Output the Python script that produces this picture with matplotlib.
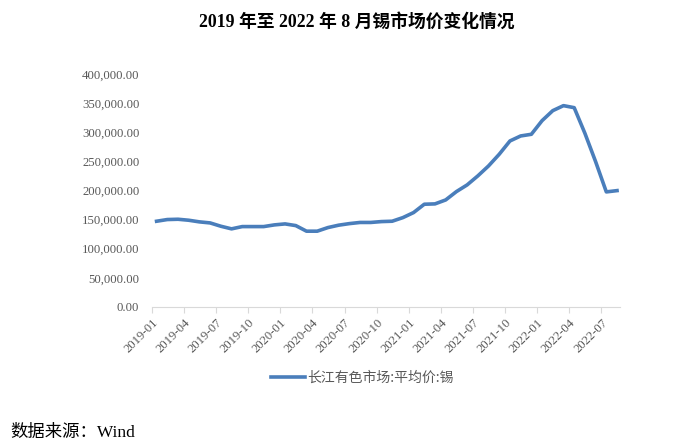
import numpy as np
import matplotlib
matplotlib.use("Agg")
import matplotlib.pyplot as plt
from matplotlib.ticker import FuncFormatter

plt.rcParams['font.family'] = ['Liberation Serif', 'Noto Sans CJK SC', 'DejaVu Sans']

# monthly tin price, 2019-01 .. 2022-08
months = [f"{y}-{m:02d}" for y in range(2019, 2023) for m in range(1, 13)][:44]
price = [147100, 150000, 150500, 148800, 146000, 144200, 138500, 134000, 137900, 137900,
         137900, 140800, 142500, 139600, 130000, 130000, 136200, 140300, 143000, 145000,
         145000, 146500, 147100, 153300, 162000, 176300, 176900, 183700, 198000, 209500,
         225000, 242100, 262200, 285000, 293600, 296500, 319900, 337100, 345700, 342200,
         298200, 249500, 197500, 199700]
series_name = "长江有色市场:平均价:锡"

fig = plt.figure(figsize=(6.93, 4.46), dpi=100)
ax = fig.add_axes([0.219, 0.312, 0.676, 0.522])

x = np.arange(len(price))
ax.plot(x, price, color='#4a7ebb', lw=2.6, solid_joinstyle='round', label=series_name)

ax.set_ylim(0, 400000)
ax.set_yticks(np.arange(0, 400001, 50000))
ax.yaxis.set_major_formatter(FuncFormatter(lambda v, p: f"{v:,.2f}"))
ax.set_xlim(-0.45, 43.3)
tick_idx = np.arange(0, 44, 3)
ax.set_xticks(tick_idx - 0.45)
ax.set_xticklabels([months[i] for i in tick_idx], rotation=45, ha='right',
                   rotation_mode='anchor')

for s in ['top', 'right', 'left']:
    ax.spines[s].set_visible(False)
ax.spines['bottom'].set_color('#d9d9d9')
ax.tick_params(axis='y', length=0, labelsize=9.2, labelcolor='#595959', pad=9)
ax.tick_params(axis='x', length=4, color='#d9d9d9', labelsize=9.2, labelcolor='#595959', pad=3)

fig.text(0.515, 0.95, "2019 年至 2022 年 8 月锡市场价变化情况", ha='center', va='center',
         fontsize=12.8, fontweight='bold', color='black')

fig.legend(loc='center', bbox_to_anchor=(0.523, 0.152), frameon=False,
           prop={'family': ['Noto Sans CJK SC'], 'size': 10}, labelcolor='#595959',
           handlelength=2.4, handletextpad=0.15)

fig.text(0.015, 0.03, "数据来源：Wind", ha='left', va='center', fontsize=12.5, color='black')

fig.savefig("out.png", dpi=100)
